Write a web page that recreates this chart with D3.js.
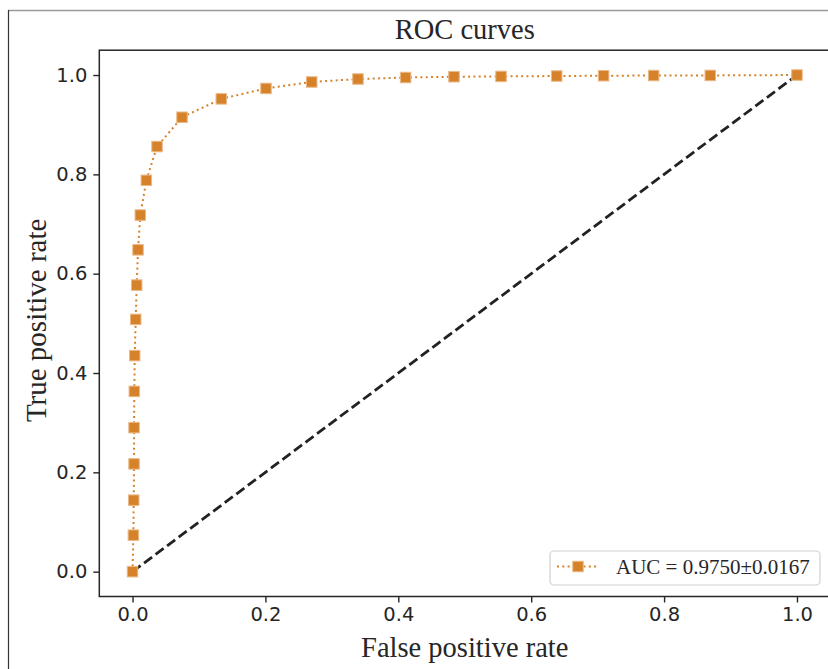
<!DOCTYPE html>
<html>
<head>
<meta charset="utf-8">
<script src="https://cdn.jsdelivr.net/npm/d3@7"></script>
<style>
  html, body { margin: 0; padding: 0; background: #fff; }
  svg { display: block; }
</style>
</head>
<body>
<svg id="chart" width="828" height="669"></svg>
<script>
// ---- data ----
const fpr = [0, 0.0013, 0.0018, 0.0023, 0.0023, 0.0027, 0.0033, 0.0048, 0.0063, 0.0083, 0.0117, 0.0208, 0.0369, 0.0745, 0.1336, 0.2009, 0.2697, 0.3393, 0.411, 0.4838, 0.5546, 0.6384, 0.709, 0.7843, 0.8695, 1.0];
const tpr = [0, 0.0735, 0.144, 0.217, 0.290, 0.363, 0.435, 0.508, 0.577, 0.648, 0.718, 0.788, 0.856, 0.915, 0.952, 0.973, 0.986, 0.992, 0.995, 0.9966, 0.9972, 0.998, 0.9986, 0.999, 0.9992, 1.0];
const chanceX = [0, 1];
const chanceY = [0, 1];
const xTicks = [0.0, 0.2, 0.4, 0.6, 0.8, 1.0];
const yTicks = [0.0, 0.2, 0.4, 0.6, 0.8, 1.0];
const titleText = "ROC curves";
const xLabel = "False positive rate";
const yLabel = "True positive rate";
const legendLabel = "AUC = 0.9750\u00B10.0167";

// ---- layout ----
const W = 828, H = 669;
const plot = { left: 99.3, right: 830.2, top: 50.2, bottom: 596.5 };
const orange = "#d5822b";
const ink = "#262626";
const serif = "'Liberation Serif', 'Times New Roman', serif";
const sans = "'DejaVu Sans', sans-serif";

const svg = d3.select("#chart");
svg.append("rect").attr("width", W).attr("height", H).attr("fill", "#fff");

// outer frame lines (figure border)
svg.append("line").attr("x1", 8).attr("x2", W).attr("y1", 10.5).attr("y2", 10.5)
  .attr("stroke", "#9a9a9a").attr("stroke-width", 1.5);
svg.append("line").attr("x1", 8.5).attr("x2", 8.5).attr("y1", 10).attr("y2", H)
  .attr("stroke", "#333").attr("stroke-width", 1.2);

const x = d3.scaleLinear().domain([-0.05, 1.05]).range([plot.left, plot.right]);
const y = d3.scaleLinear().domain([-0.05, 1.05]).range([plot.bottom, plot.top]);

// axes
const fmt = d3.format(".1f");
const gx = svg.append("g").attr("transform", `translate(0,${plot.bottom})`)
  .call(d3.axisBottom(x).tickValues(xTicks).tickFormat(fmt).tickSize(6).tickPadding(5));
const gy = svg.append("g").attr("transform", `translate(${plot.left},0)`)
  .call(d3.axisLeft(y).tickValues(yTicks).tickFormat(fmt).tickSize(6).tickPadding(6));
[gx, gy].forEach(g => {
  g.select(".domain").remove();
  g.selectAll(".tick line").attr("stroke", ink).attr("stroke-width", 1.4);
  g.selectAll(".tick text").attr("fill", ink).style("font-family", sans).style("font-size", "19.5px");
});

// chance diagonal
const line = d3.line().x(d => x(d[0])).y(d => y(d[1]));
svg.append("path")
  .attr("d", line(chanceX.map((v, i) => [v, chanceY[i]])))
  .attr("fill", "none").attr("stroke", "#222").attr("stroke-width", 2.8)
  .attr("stroke-dasharray", "10,4.4");

// ROC curve
const pts = fpr.map((v, i) => [v, tpr[i]]);
svg.append("path")
  .attr("d", line(pts))
  .attr("fill", "none").attr("stroke", orange).attr("stroke-width", 2)
  .attr("stroke-dasharray", "2,3.3");

const ms = 10.5;
svg.append("g").selectAll("rect").data(pts).join("rect")
  .attr("x", d => x(d[0]) - ms / 2).attr("y", d => y(d[1]) - ms / 2)
  .attr("width", ms).attr("height", ms)
  .attr("fill", orange).attr("stroke", "#ebb987").attr("stroke-width", 1);

// spines
svg.append("rect")
  .attr("x", plot.left).attr("y", plot.top)
  .attr("width", plot.right - plot.left).attr("height", plot.bottom - plot.top)
  .attr("fill", "none").attr("stroke", ink).attr("stroke-width", 1.5);

// title & labels
svg.append("text").attr("x", (plot.left + plot.right) / 2).attr("y", 39)
  .attr("text-anchor", "middle").attr("fill", ink)
  .style("font-family", serif).style("font-size", "28.5px").text(titleText);
svg.append("text").attr("x", (plot.left + plot.right) / 2).attr("y", 657)
  .attr("text-anchor", "middle").attr("fill", ink)
  .style("font-family", serif).style("font-size", "28.5px").text(xLabel);
svg.append("text")
  .attr("transform", `translate(46,${(plot.top + plot.bottom) / 2 - 3}) rotate(-90)`)
  .attr("text-anchor", "middle").attr("fill", ink)
  .style("font-family", serif).style("font-size", "29px").text(yLabel);

// legend
const lg = svg.append("g");
lg.append("rect").attr("x", 550).attr("y", 551).attr("width", 270).attr("height", 34)
  .attr("rx", 4).attr("fill", "#fff").attr("fill-opacity", 0.8)
  .attr("stroke", "#d0d0d0").attr("stroke-width", 1.2);
lg.append("line").attr("x1", 557).attr("x2", 598).attr("y1", 566.5).attr("y2", 566.5)
  .attr("stroke", orange).attr("stroke-width", 2).attr("stroke-dasharray", "2,3.3");
lg.append("rect").attr("x", 578 - ms / 2).attr("y", 566.5 - ms / 2).attr("width", ms).attr("height", ms)
  .attr("fill", orange).attr("stroke", "#ebb987").attr("stroke-width", 1);
lg.append("text").attr("x", 616).attr("y", 574).attr("fill", ink)
  .style("font-family", serif).style("font-size", "21px").text(legendLabel);
</script>
</body>
</html>
